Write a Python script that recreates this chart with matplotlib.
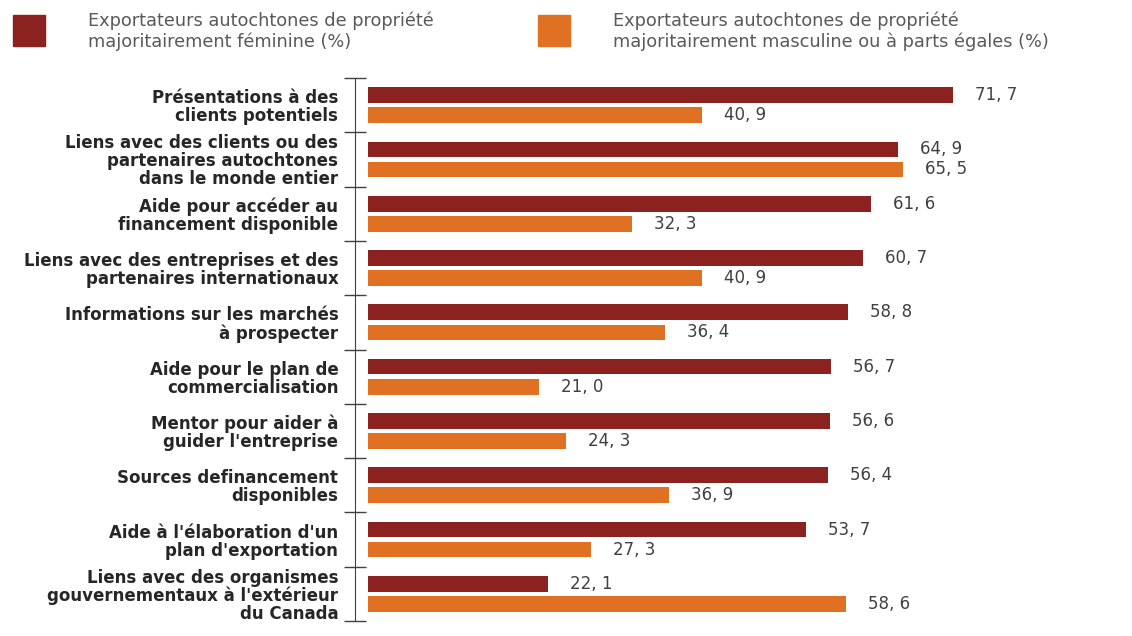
import matplotlib.pyplot as plt
from matplotlib.patches import Rectangle
import numpy as np

categories = [
    "Présentations à des\nclients potentiels",
    "Liens avec des clients ou des\npartenaires autochtones\ndans le monde entier",
    "Aide pour accéder au\nfinancement disponible",
    "Liens avec des entreprises et des\npartenaires internationaux",
    "Informations sur les marchés\nà prospecter",
    "Aide pour le plan de\ncommercialisation",
    "Mentor pour aider à\nguider l'entreprise",
    "Sources definancement\ndisponibles",
    "Aide à l'élaboration d'un\nplan d'exportation",
    "Liens avec des organismes\ngouvernementaux à l'extérieur\ndu Canada",
]
female = [71.7, 64.9, 61.6, 60.7, 58.8, 56.7, 56.6, 56.4, 53.7, 22.1]
male = [40.9, 65.5, 32.3, 40.9, 36.4, 21.0, 24.3, 36.9, 27.3, 58.6]
series_names = [
    "Exportateurs autochtones de propriété\nmajoritairement féminine (%)",
    "Exportateurs autochtones de propriété\nmajoritairement masculine ou à parts égales (%)",
]
colors = ["#8B2220", "#E07122"]

W, H = 1132, 636
fig = plt.figure(figsize=(W / 100, H / 100), dpi=100)
ax = fig.add_axes([355 / W, 1 - 621 / H, 745 / W, 543 / H])

y = np.arange(len(categories))
bh = 0.29
off = 0.185
ax.barh(y - off, female, height=bh, color=colors[0])
ax.barh(y + off, male, height=bh, color=colors[1])

# value labels, French decimal comma
for yi, v in zip(y - off, female):
    ax.text(v + 2.7, yi, f"{v:.1f}".replace(".", ", "), va="center", ha="left",
            fontsize=12, color="#404040")
for yi, v in zip(y + off, male):
    ax.text(v + 2.7, yi, f"{v:.1f}".replace(".", ", "), va="center", ha="left",
            fontsize=12, color="#404040")

ax.set_xlim(-1.6, 89.7)
ax.set_ylim(len(categories) - 0.5, -0.5)
ax.set_xticks([])
ax.set_yticks(y)
ax.set_yticklabels(categories, fontsize=12, fontweight="bold", color="#262626",
                   multialignment="right", linespacing=1.0)
ax.tick_params(axis="y", which="major", length=0, pad=12)
ax.set_yticks(np.arange(-0.5, len(categories)), minor=True)
ax.tick_params(axis="y", which="minor", length=16, direction="inout", width=1, color="#404040")
for s in ["top", "right", "bottom"]:
    ax.spines[s].set_visible(False)
ax.spines["left"].set_color("#404040")

# legend
for x0, c, name in zip([13, 538], colors, series_names):
    fig.add_artist(Rectangle((x0 / W, 1 - 46 / H), 32 / W, 31 / H, color=c,
                             transform=fig.transFigure))
    fig.text((x0 + 75) / W, 1 - 31 / H, name, fontsize=12.8, color="#595959",
             va="center", ha="left", linespacing=1.15)

fig.savefig("out.png", dpi=100)
